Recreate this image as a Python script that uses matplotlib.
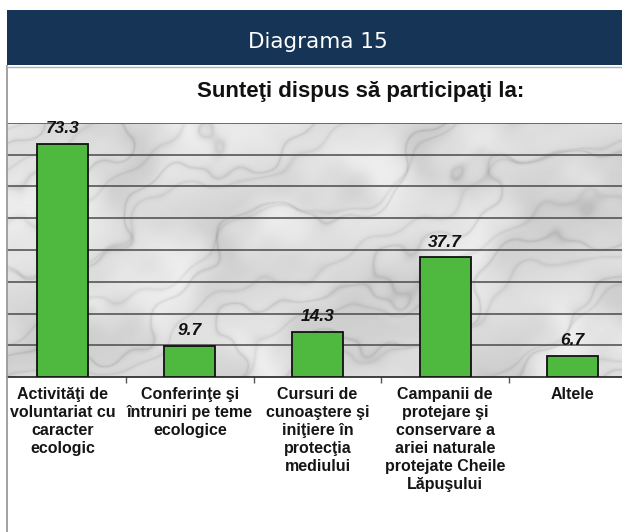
import numpy as np
import matplotlib
matplotlib.use("Agg")
import matplotlib.pyplot as plt
from matplotlib.patches import Rectangle
from matplotlib.lines import Line2D

categories = [
    "Activităţi de\nvoluntariat cu\ncaracter\necologic",
    "Conferinţe şi\nîntruniri pe teme\necologice",
    "Cursuri de\ncunoaştere şi\niniţiere în\nprotecţia\nmediului",
    "Campanii de\nprotejare şi\nconservare a\nariei naturale\nprotejate Cheile\nLăpuşului",
    "Altele",
]
values = [73.3, 9.7, 14.3, 37.7, 6.7]
header_text = "Diagrama 15"
title_text = "Sunteţi dispus să participaţi la:"

W, H = 622, 532
fig = plt.figure(figsize=(W / 100, H / 100), dpi=100)
fig.patch.set_facecolor("white")

# header band
fig.patches.append(Rectangle((7 / W, 1 - 65 / H), (W - 7) / W, 55 / H,
                             transform=fig.transFigure, facecolor="#163456",
                             edgecolor="none", zorder=0))
fig.text(318 / W, 1 - 42 / H, header_text, color="white", fontsize=15.5,
         family="DejaVu Sans", ha="center", va="center")

# panel border
fig.add_artist(Line2D([7.5 / W, 7.5 / W], [0, 1 - 66 / H], color="#9a9a9a", lw=1.3,
                      transform=fig.transFigure))
fig.add_artist(Line2D([7 / W, 1], [1 - 66.5 / H, 1 - 66.5 / H], color="#b0b0b0", lw=1.0,
                      transform=fig.transFigure))

fig.text(361 / W, 1 - 92 / H, title_text, fontsize=16, fontweight="bold",
         family="Liberation Sans", ha="center", va="center", color="#111111")

ax = fig.add_axes([7 / W, 1 - 377 / H, (W - 7) / W, (377 - 123) / H])
x = np.arange(len(values))
ax.set_xlim(-0.435, 4.388)
ax.set_ylim(0, 80)

# marble-like background texture (deterministic, decorative only)
ny, nx = 254, 615
yy, xx = np.mgrid[0:ny, 0:nx].astype(float)
turb = (np.sin(xx * 0.021 + yy * 0.013 + 1.3) * 1.0
        + np.sin(xx * 0.047 - yy * 0.033 + 0.4) * 0.6
        + np.sin(xx * 0.011 + yy * 0.061 + 2.1) * 0.7
        + np.sin(xx * 0.093 + yy * 0.081 + 0.9) * 0.3
        + np.sin(xx * 0.173 - yy * 0.141 + 2.7) * 0.12)
veins1 = np.abs(np.sin(0.035 * (0.55 * xx - yy) + 0.9 * turb))
veins2 = np.abs(np.sin(0.052 * (0.45 * xx - yy) + 0.7 * turb + 1.7))
cloud = 0.5 + 0.5 * np.sin(xx * 0.017 + yy * 0.027 + 0.8 * turb)
cloud2 = 0.5 + 0.5 * np.sin(xx * 0.041 - yy * 0.019 + 1.1 * turb + 0.6)
tex = (0.93 - 0.07 * cloud - 0.05 * cloud2
       - 0.10 * (1 - veins1) ** 10
       - 0.07 * (1 - veins2) ** 8)
ax.imshow(tex, cmap="gray", vmin=0, vmax=1, aspect="auto",
          extent=(-0.435, 4.388, 0, 80), origin="lower", zorder=0,
          interpolation="bilinear")

# gridlines
for g in range(10, 81, 10):
    ax.axhline(g, color="#4a4a4a", lw=1.1, zorder=1)

ax.bar(x, values, width=0.4, color="#4fb83e", edgecolor="#111111", lw=1.3, zorder=3)
for xi, v in zip(x, values):
    ax.annotate(f"{v:.1f}", (xi, v), xytext=(0, 11), textcoords="offset points",
                ha="center", va="center", fontsize=12.5, fontweight="bold",
                fontstyle="italic", family="Liberation Sans", color="#111111", zorder=4)

for s in ["left", "right", "top"]:
    ax.spines[s].set_visible(False)
ax.spines["bottom"].set_color("#222222")
ax.spines["bottom"].set_linewidth(1.2)
ax.set_yticks([])
ax.set_xticks(x)
ax.set_xticklabels(categories, fontsize=11.5, fontweight="bold",
                   family="Liberation Sans", linespacing=1.24, color="#151515")
ax.tick_params(axis="x", which="major", length=0, pad=7.5)
ax.set_xticks([0.5, 1.5, 2.5, 3.5], minor=True)
ax.tick_params(axis="x", which="minor", length=4, width=1.0, color="#555555",
               direction="out")

fig.savefig("out.png", dpi=100, facecolor="white")
